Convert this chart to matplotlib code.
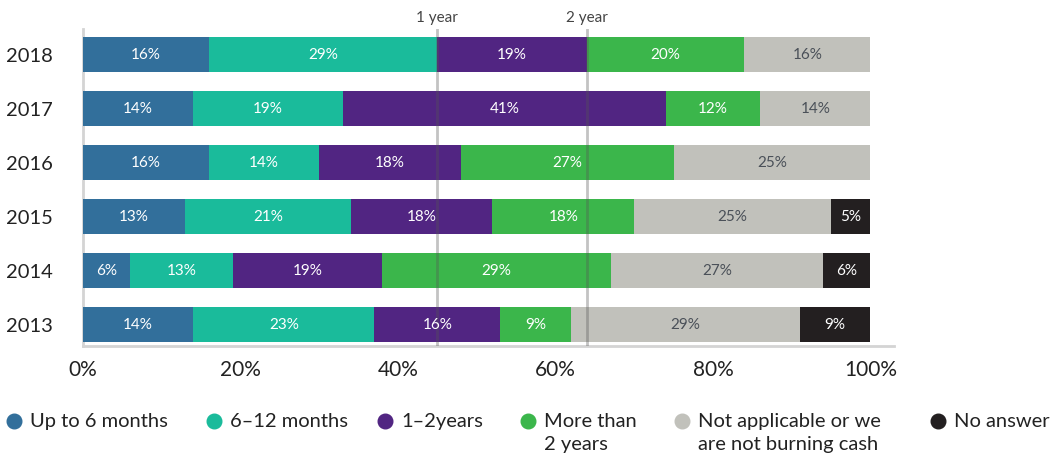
import numpy as np
import matplotlib.pyplot as plt
from matplotlib.lines import Line2D

plt.rcParams['font.family'] = ['Lato', 'DejaVu Sans']

years = ["2013", "2014", "2015", "2016", "2017", "2018"]
categories = ["Up to 6 months", "6–12 months", "1–2years", "More than\n2 years",
              "Not applicable or we\nare not burning cash", "No answer"]
# shares per year (rows follow years), one column per category
shares = np.array([
    [14, 23, 16, 9, 29, 9],
    [6, 13, 19, 29, 27, 6],
    [13, 21, 18, 18, 25, 5],
    [16, 14, 18, 27, 25, 0],
    [14, 19, 41, 12, 14, 0],
    [16, 29, 19, 20, 16, 0],
])
colors = ["#326f9b", "#1abb9b", "#512582", "#3bb64b", "#c1c1bb", "#231f20"]
text_colors = ["white", "white", "white", "white", "#4a5058", "white"]
markers_at = [45, 64]
marker_names = ["1 year", "2 year"]

fig = plt.figure(figsize=(10.55, 4.59), dpi=100)
ax = fig.add_axes([0.0787, 0.2462, 0.7687, 0.6906])

ypos = np.arange(len(years))
left = np.zeros(len(years))
for j, cat in enumerate(categories):
    vals = shares[:, j]
    ax.barh(ypos, vals, left=left, height=0.65, color=colors[j], zorder=2)
    for i, v in enumerate(vals):
        if v > 0:
            ax.text(left[i] + v / 2, ypos[i], f"{v}%", ha="center", va="center",
                    fontsize=11, color=text_colors[j], zorder=4)
    left += vals

for x, name in zip(markers_at, marker_names):
    ax.axvline(x, color="#555555", alpha=0.35, lw=2, zorder=3)
    ax.text(x, 5.55, name, ha="center", va="bottom", fontsize=11,
            color="#444444", clip_on=False)

ax.set_xlim(0, 103)
ax.set_ylim(-0.39, 5.48)
ax.set_xticks(np.arange(0, 101, 20))
ax.set_xticklabels([f"{t}%" for t in range(0, 101, 20)])
ax.set_yticks(ypos)
ax.set_yticklabels(years)
ax.tick_params(axis="x", length=0, pad=10, labelsize=15, colors="#222222")
ax.tick_params(axis="y", length=0, pad=22, labelsize=14.5, colors="#222222")
for s in ["top", "right"]:
    ax.spines[s].set_visible(False)
for s in ["left", "bottom"]:
    ax.spines[s].set_color("#d4d4d4")
    ax.spines[s].set_linewidth(2)
    ax.spines[s].set_zorder(1)

# legend laid out by hand so wrapped labels keep the dot on the first line
leg_x = [14, 214, 385, 528, 682, 938]
leg_y = 1 - 421 / 459
for j, cat in enumerate(categories):
    fx = leg_x[j] / 1055
    fig.add_artist(Line2D([fx], [leg_y], marker="o", markersize=10.5, color=colors[j],
                          transform=fig.transFigure))
    fig.text(fx + 16 / 1055, leg_y + 8 / 459, cat, ha="left", va="top", fontsize=14.5,
             color="#222222", linespacing=1.45)

fig.savefig("out.png", dpi=100)
